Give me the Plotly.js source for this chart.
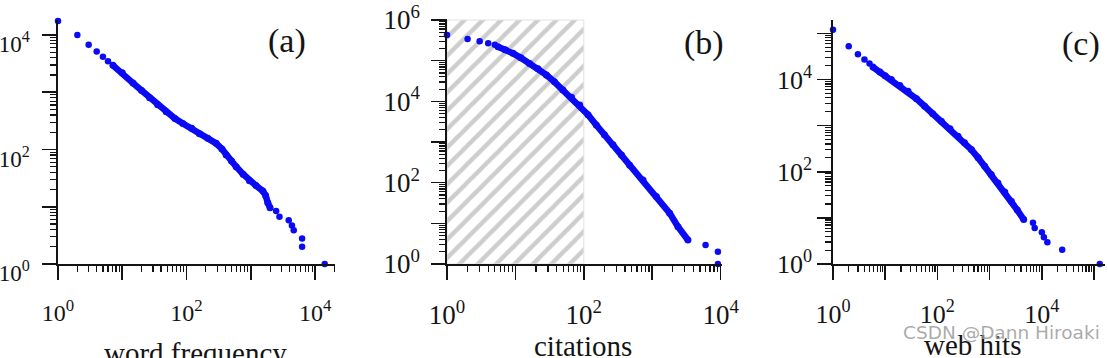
<!DOCTYPE html>
<html><head><meta charset="utf-8">
<script src="https://cdn.plot.ly/plotly-3.0.1.min.js"></script>
<style>html,body{margin:0;padding:0;background:#fff}#chart{width:1108px;height:358px}</style>
</head><body><div id="chart"></div>
<script>
// ---------- (a) word frequency ----------
const wordHeadX = [1, 2, 3, 4, 5, 6];
const wordHeadY = [17600, 10000, 6760, 5150, 4150, 3470];
const wordBodyX = [7.16, 10, 14.7, 20, 26.6, 35.5, 48.3, 66, 87.7, 120, 159, 214, 289, 355, 414, 501, 592, 759, 953, 1202, 1538, 1698, 1837, 1995];
const wordBodyY = [2951, 2188, 1445, 1072, 805, 603, 456, 347, 284, 234, 189, 157, 128, 102, 80, 63, 50, 37, 28.4, 23.4, 18.9, 15.8, 11.8, 9.6];
const wordTailX = [2477, 2793, 3890, 4365, 4656, 6281, 6281, 14125];
const wordTailY = [8.4, 6.7, 5.8, 4.7, 3.9, 2.8, 2.0, 1];

// ---------- (b) citations ----------
const citeHeadX = [1, 2, 3, 4, 5];
const citeHeadY = [427000, 340000, 299000, 270000, 247000];
const citeBodyX = [5.56, 7.08, 9.23, 12.0, 16.1, 21.4, 28.3, 37.2, 49.5, 66.1, 86.9, 115, 152, 200, 267, 355, 468, 733, 1148, 1799, 2377, 3327];
const citeBodyY = [218776, 186209, 151356, 117490, 85114, 63096, 44668, 30200, 19055, 12589, 8128, 4677, 2630, 1514, 851, 479, 269, 117, 45.7, 17.8, 8.3, 3.9];
const citeTailX = [6026, 9120, 9120];
const citeTailY = [2.93, 2.0, 1];
const hatchX = [1, 100];
const hatchY = [1, 1e6];

// ---------- (c) web hits ----------
const webHeadX = [1, 2, 3, 4, 5];
const webHeadY = [120000, 52500, 35300, 27000, 22100];
const webBodyX = [5.83, 7.94, 10, 13.1, 19.1, 27.4, 39.8, 57.0, 81.3, 119, 174, 248, 331, 447, 603, 805, 1072, 1445, 1950, 2606, 3388, 4498];
const webBodyY = [18621, 14454, 12023, 10000, 7413, 5559, 3802, 2630, 1820, 1245, 851, 589, 427, 302, 200, 132, 87, 57.1, 36.3, 22.9, 14.8, 9.2];
const webTailX = [6761, 7295, 10000, 10965, 12764, 24547, 128825];
const webTailY = [7.8, 6.0, 4.9, 3.8, 2.95, 2.04, 1];

// ---------- ticks & labels ----------
const decadeVals = [1, 10, 100, 1000, 10000, 100000, 1000000];
const tickTextA_x = ['10<sup>0</sup>', '', '10<sup>2</sup>', '', '10<sup>4</sup>'];
const tickTextA_y = ['10<sup>0</sup>', '', '10<sup>2</sup>', '', '10<sup>4</sup>'];
const tickTextB_x = ['10<sup>0</sup>', '', '10<sup>2</sup>', '', '10<sup>4</sup>'];
const tickTextB_y = ['10<sup>0</sup>', '', '10<sup>2</sup>', '', '10<sup>4</sup>', '', '10<sup>6</sup>'];
const tickTextC_x = ['10<sup>0</sup>', '', '10<sup>2</sup>', '', '10<sup>4</sup>', ''];
const tickTextC_y = ['10<sup>0</sup>', '', '10<sup>2</sup>', '', '10<sup>4</sup>', ''];
const panelLabels = ['(a)', '(b)', '(c)'];
const axisTitles = ['word frequency', 'citations', 'web hits'];

const BLUE = '#0a0af5';
const SERIF = 'Liberation Serif, Times New Roman, serif';
const INK = '#141414';

function sparse(x, y, xa, ya) {
  return {x, y, xaxis: xa, yaxis: ya, type: 'scatter', mode: 'markers',
    marker: {color: BLUE, size: 6.5}, cliponaxis: false, hoverinfo: 'skip', showlegend: false};
}
function dense(x, y, xa, ya) {
  return {x, y, xaxis: xa, yaxis: ya, type: 'scatter', mode: 'lines+markers',
    line: {color: BLUE, width: 6.5}, marker: {color: BLUE, size: 7}, cliponaxis: false, hoverinfo: 'skip', showlegend: false};
}

const traces = [
  {x: [hatchX[0], hatchX[1], hatchX[1], hatchX[0], hatchX[0]],
   y: [hatchY[0], hatchY[0], hatchY[1], hatchY[1], hatchY[0]],
   xaxis: 'x2', yaxis: 'y2', type: 'scatter', mode: 'lines', fill: 'toself',
   fillcolor: 'white',
   fillpattern: {shape: '/', fgcolor: '#cdcdcd', bgcolor: 'white', size: 13, solidity: 0.33},
   line: {color: '#e2e2e2', width: 1}, hoverinfo: 'skip', showlegend: false},
  dense(wordBodyX, wordBodyY, 'x', 'y'),
  sparse(wordHeadX.concat(wordTailX), wordHeadY.concat(wordTailY), 'x', 'y'),
  dense(citeBodyX, citeBodyY, 'x2', 'y2'),
  sparse(citeHeadX.concat(citeTailX), citeHeadY.concat(citeTailY), 'x2', 'y2'),
  dense(webBodyX, webBodyY, 'x3', 'y3'),
  sparse(webHeadX.concat(webTailX), webHeadY.concat(webTailY), 'x3', 'y3')
];

function axis(domain, range, tickvals, ticktext, anchor, fontSize, standoff, shift) {
  return {
    type: 'log', domain, range, anchor, tickmode: 'array', tickvals, ticktext,
    ticks: 'outside', ticklen: 14, tickwidth: 1.6, tickcolor: INK,
    showline: true, linecolor: INK, linewidth: 1.6,
    showgrid: false, zeroline: false, automargin: false, tickangle: 0,
    tickfont: {family: SERIF, size: fontSize, color: INK},
    ticklabelstandoff: standoff, ticklabelshift: shift || 0,
    minor: {ticks: 'outside', ticklen: 6, tickwidth: 1.2, tickcolor: INK, dtick: 'D1', showgrid: false},
    fixedrange: true
  };
}

const W = 1108, H = 358;
const px = v => v / W, py = v => 1 - v / H;
function note(text, x, y, size, color, family) {
  return {text, x: px(x), y: py(y), xref: 'paper', yref: 'paper', xanchor: 'center', yanchor: 'middle',
    showarrow: false, font: {family: family || SERIF, size, color: color || INK}};
}

const layout = {
  width: W, height: H, margin: {l: 0, r: 0, t: 0, b: 0},
  paper_bgcolor: 'white', plot_bgcolor: 'rgba(0,0,0,0)', showlegend: false,
  xaxis:  axis([px(58), px(335)],   [0, 4.31],  decadeVals.slice(0, 5), tickTextA_x, 'y', 24, 13),
  yaxis:  axis([py(264), py(20)],   [0, 4.262], decadeVals.slice(0, 5), tickTextA_y, 'x', 23, 8, 9),
  xaxis2: axis([px(447), px(722)],  [0, 4.02],  decadeVals.slice(0, 5), tickTextB_x, 'y2', 27, 12),
  yaxis2: axis([py(264), py(19)],   [0, 6.025], decadeVals.slice(0, 7), tickTextB_y, 'x2', 27, 6),
  xaxis3: axis([px(833), px(1105)], [0, 5.21],  decadeVals.slice(0, 6), tickTextC_x, 'y3', 26, 12),
  yaxis3: axis([py(264), py(20)],   [0, 5.29],  decadeVals.slice(0, 6), tickTextC_y, 'x3', 26, 0),
  annotations: [
    note(panelLabels[0], 287, 41, 34),
    note(panelLabels[1], 704, 43, 34),
    note(panelLabels[2], 1081, 44, 34),
    note(axisTitles[0], 195, 353, 29),
    note(axisTitles[1], 583, 346, 29),
    note(axisTitles[2], 972, 345, 29),
    note('CSDN @Dann Hiroaki', 1001, 332, 18.5, 'rgba(155,155,155,0.85)', 'DejaVu Sans, sans-serif')
  ]
};

Plotly.newPlot('chart', traces, layout, {staticPlot: true, displayModeBar: false});
</script></body></html>
